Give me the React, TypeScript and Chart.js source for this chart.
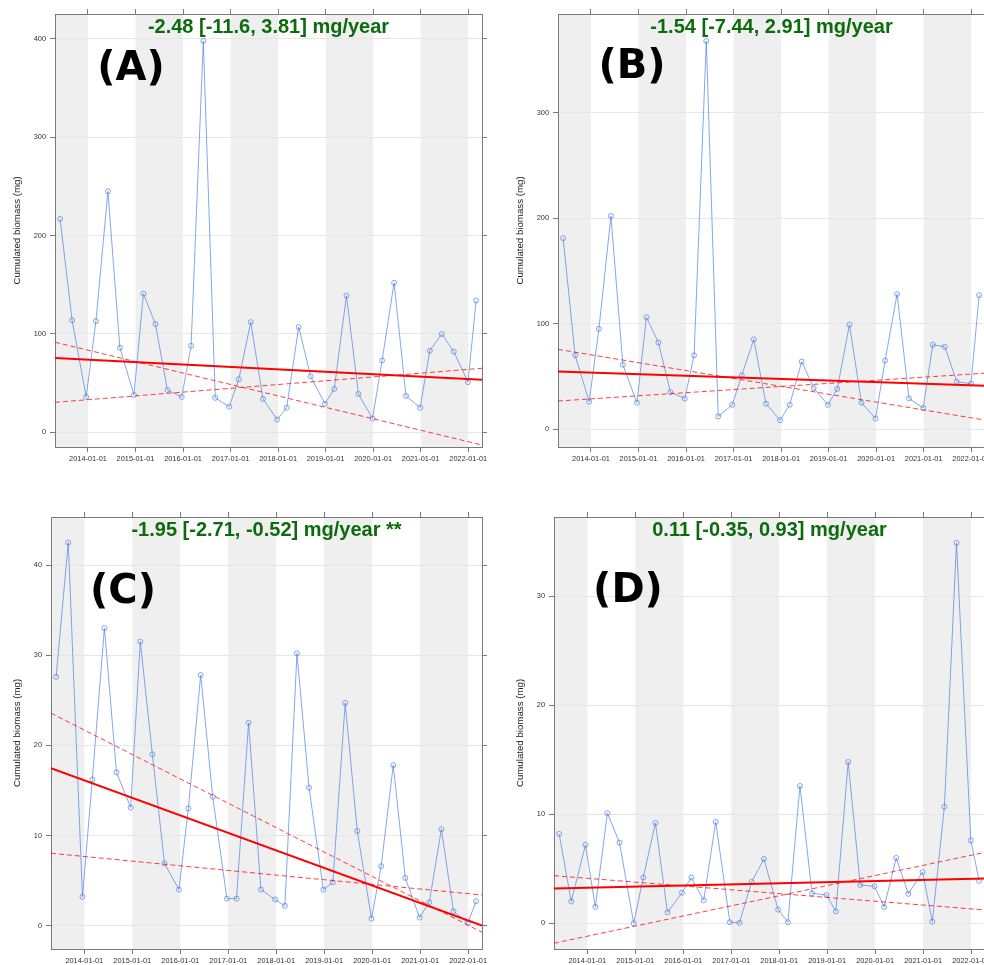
import React, { useEffect, useRef } from "react";
import { Chart, registerables } from "chart.js";

Chart.register(...registerables);

// ---------- DATA ----------
const sampleDates = [
  "2013-06-01", "2013-09-01", "2013-12-18",
  "2014-03-03", "2014-06-03", "2014-09-03", "2014-12-20",
  "2015-03-03", "2015-06-03", "2015-09-03", "2015-12-22",
  "2016-03-03", "2016-06-05", "2016-09-05", "2016-12-22",
  "2017-03-05", "2017-06-05", "2017-09-07", "2017-12-24",
  "2018-03-08", "2018-06-08", "2018-09-08", "2018-12-26",
  "2019-03-08", "2019-06-10", "2019-09-10", "2019-12-27",
  "2020-03-10", "2020-06-10", "2020-09-10", "2020-12-28",
  "2021-03-12", "2021-06-12", "2021-09-12", "2021-12-30",
  "2022-03-03",
];

const biomassA = [217, 114, 36, 113, 245, 86, 38, 141, 110, 43, 36, 88, 398, 35, 26, 54, 112, 34, 13, 25, 107, 57, 29, 44, 139, 39, 14, 73, 152, 37, 25, 83, 100, 82, 51, 134];
const biomassB = [181, 70, 26, 95, 202, 61, 25, 106, 82, 35, 29, 70, 368, 12, 23, 51, 85, 24, 8.5, 23, 64, 39, 23, 38, 99, 25, 10, 65, 128, 29, 20, 80, 78, 45, 43, 127];
const biomassC = [27.6, 42.5, 3.2, 16.2, 33, 17, 13.1, 31.5, 19, 6.9, 4.0, 13.0, 27.8, 14.3, 3.0, 3.0, 22.5, 4.0, 2.9, 2.2, 30.2, 15.3, 4.0, 4.8, 24.7, 10.5, 0.8, 6.6, 17.8, 5.3, 0.9, 2.6, 10.7, 1.6, 0.3, 2.7];
const biomassD = [8.2, 2.0, 7.2, 1.5, 10.1, 7.4, 0.0, 4.2, 9.2, 1.0, 2.8, 4.2, 2.1, 9.3, 0.1, 0.05, 3.8, 5.9, 1.25, 0.1, 12.6, 2.75, 2.6, 1.1, 14.8, 3.5, 3.4, 1.5, 6.0, 2.7, 4.7, 0.15, 10.7, 34.9, 7.6, 3.9];

// trend lines: [value at left edge, value at right edge]
const trendA = [75.5, 53.4];
const ciLowA = [91.6, -12.9];
const ciHighA = [30.5, 65.1];
const trendB = [54.7, 41.0];
const ciLowB = [75.6, 8.5];
const ciHighB = [26.6, 53.0];
const trendC = [17.47, 0.0];
const ciLowC = [23.57, -0.73];
const ciHighC = [8.03, 3.4];
const trendD = [3.18, 4.1];
const ciLowD = [4.37, 1.22];
const ciHighD = [-1.83, 6.51];

const titleA = "-2.48 [-11.6, 3.81] mg/year";
const titleB = "-1.54 [-7.44, 2.91] mg/year";
const titleC = "-1.95 [-2.71, -0.52] mg/year **";
const titleD = "0.11 [-0.35, 0.93] mg/year";

const yearTicks = [2014, 2015, 2016, 2017, 2018, 2019, 2020, 2021, 2022];
const shadedYears = [2013, 2015, 2017, 2019, 2021];
const yTicksA = [0, 100, 200, 300, 400];
const yTicksB = [0, 100, 200, 300];
const yTicksC = [0, 10, 20, 30, 40];
const yTicksD = [0, 10, 20, 30];

const yAxisTitle = "Cumulated biomass (mg)";

// ---------- STYLE ----------
const X_MIN = 2013.306;
const X_MAX = 2022.29;
const AXIS = "#7a7a7a";
const GRID = "#e6e6e6";
const BAND = "#efefef";
const TICK_FONT = { family: "'Liberation Sans', Arial, sans-serif", size: 7.4 };
const BLUE = "rgba(80,130,230,0.7)";

function toYear(d: string): number {
  const [y, m, day] = d.split("-").map(Number);
  const start = Date.UTC(y, 0, 1);
  const end = Date.UTC(y + 1, 0, 1);
  return y + (Date.UTC(y, m - 1, day) - start) / (end - start);
}

const decorPlugin = {
  id: "decor",
  beforeDraw(chart: any, _args: any, opts: any) {
    const { ctx, chartArea: a, scales } = chart;
    const x = scales.x;
    ctx.save();
    ctx.beginPath();
    ctx.rect(a.left, a.top, a.right - a.left, a.bottom - a.top);
    ctx.clip();
    ctx.fillStyle = BAND;
    for (const y0 of shadedYears) {
      const x0 = x.getPixelForValue(y0);
      const x1 = x.getPixelForValue(y0 + 1);
      ctx.fillRect(x0, a.top, x1 - x0, a.bottom - a.top);
    }
    ctx.restore();
  },
  afterDraw(chart: any, _args: any, opts: any) {
    const { ctx, chartArea: a } = chart;
    ctx.save();
    ctx.fillStyle = "#0c6b0c";
    ctx.font = "bold 20px 'Liberation Sans', Arial, sans-serif";
    ctx.textAlign = "center";
    ctx.textBaseline = "middle";
    ctx.fillText(opts.title, (a.left + a.right) / 2 + (opts.titleDx || 0), a.top + 13);
    ctx.fillStyle = "#000";
    ctx.font = "bold 40px 'DejaVu Sans', sans-serif";
    ctx.textBaseline = "alphabetic";
    ctx.fillText(opts.letter, a.left + opts.letterDx, a.top + opts.letterDy);
    ctx.restore();
  },
};

type Panel = {
  key: string;
  left: number;
  top: number;
  width: number;
  height: number;
  yW: number;
  yRW: number;
  xTopH: number;
  xH: number;
  values: number[];
  trend: number[];
  ciLow: number[];
  ciHigh: number[];
  yMin: number;
  yMax: number;
  yTicks: number[];
  title: string;
  letter: string;
  letterDx: number;
  letterDy: number;
};

const panels: Panel[] = [
  { key: "A", left: 0, top: 0, width: 492, height: 480, yW: 55, yRW: 10, xTopH: 14, xH: 33,
    values: biomassA, trend: trendA, ciLow: ciLowA, ciHigh: ciHighA, yMin: -14.95, yMax: 425.4, yTicks: yTicksA,
    title: titleA, letter: "(A)", letterDx: 76, letterDy: 66 },
  { key: "B", left: 503, top: 0, width: 492, height: 480, yW: 55, yRW: 10, xTopH: 14, xH: 33,
    values: biomassB, trend: trendB, ciLow: ciLowB, ciHigh: ciHighB, yMin: -17, yMax: 393.6, yTicks: yTicksB,
    title: titleB, letter: "(B)", letterDx: 74, letterDy: 64 },
  { key: "C", left: 0, top: 480, width: 492, height: 485, yW: 51, yRW: 10, xTopH: 37, xH: 16,
    values: biomassC, trend: trendC, ciLow: ciLowC, ciHigh: ciHighC, yMin: -2.59, yMax: 45.33, yTicks: yTicksC,
    title: titleC, letter: "(C)", letterDx: 72, letterDy: 86 },
  { key: "D", left: 503, top: 480, width: 492, height: 485, yW: 51, yRW: 10, xTopH: 37, xH: 16,
    values: biomassD, trend: trendD, ciLow: ciLowD, ciHigh: ciHighD, yMin: -2.36, yMax: 37.28, yTicks: yTicksD,
    title: titleD, letter: "(D)", letterDx: 74, letterDy: 85 },
];

function makeConfig(p: Panel): any {
  const fixW = (w: number) => (s: any) => { s.width = w; };
  const fixH = (h: number) => (s: any) => { s.height = h; };
  const setYearTicks = (s: any) => { s.ticks = yearTicks.map((v) => ({ value: v })); };
  const setYTicks = (s: any) => { s.ticks = p.yTicks.map((v) => ({ value: v })); };
  const border = { display: true, color: AXIS, width: 1 };
  const edgeGrid = { drawOnChartArea: false, drawTicks: true, tickLength: 5, color: AXIS, tickColor: AXIS };
  const lineDs = (vals: number[], dashed: boolean, order: number) => ({
    data: [{ x: X_MIN, y: vals[0] }, { x: X_MAX, y: vals[1] }],
    borderColor: dashed ? "rgba(255,0,0,0.75)" : "#ff0000",
    borderWidth: dashed ? 1 : 2,
    borderDash: dashed ? [5, 3] : [],
    pointRadius: 0,
    xAxisID: "x",
    yAxisID: "y",
    order,
  });
  return {
    type: "line",
    data: {
      datasets: [
        lineDs(p.trend, false, 0),
        lineDs(p.ciLow, true, 1),
        lineDs(p.ciHigh, true, 2),
        {
          data: sampleDates.map((d, i) => ({ x: toYear(d), y: p.values[i] })),
          borderColor: BLUE,
          borderWidth: 1,
          pointRadius: 2.5,
          pointBorderWidth: 1,
          pointBorderColor: BLUE,
          pointBackgroundColor: "rgba(0,0,0,0)",
          tension: 0,
          xAxisID: "x",
          yAxisID: "y",
          order: 3,
        },
      ],
    },
    options: {
      animation: false,
      responsive: false,
      maintainAspectRatio: false,
      layout: { padding: 0 },
      plugins: {
        legend: { display: false },
        tooltip: { enabled: false },
        decor: { title: p.title, letter: p.letter, letterDx: p.letterDx, letterDy: p.letterDy },
      },
      scales: {
        x: {
          type: "linear",
          position: "bottom",
          min: X_MIN,
          max: X_MAX,
          afterBuildTicks: setYearTicks,
          afterFit: fixH(p.xH),
          ticks: {
            callback: (v: number) => `${v}-01-01`,
            font: TICK_FONT,
            color: "#333",
            padding: 3,
            maxRotation: 0,
            autoSkip: false,
          },
          grid: edgeGrid,
          border,
        },
        xTop: {
          type: "linear",
          position: "top",
          min: X_MIN,
          max: X_MAX,
          afterBuildTicks: setYearTicks,
          afterFit: fixH(p.xTopH),
          ticks: { display: false },
          grid: edgeGrid,
          border,
        },
        y: {
          type: "linear",
          position: "left",
          min: p.yMin,
          max: p.yMax,
          afterBuildTicks: setYTicks,
          afterFit: fixW(p.yW),
          ticks: { font: TICK_FONT, color: "#333", padding: 4 },
          grid: { drawOnChartArea: true, color: GRID, tickColor: AXIS, tickLength: 5 },
          border,
          title: {
            display: true,
            text: yAxisTitle,
            color: "#222",
            font: { family: "'Liberation Sans', Arial, sans-serif", size: 9.7 },
            padding: { top: 11.7, bottom: 0 },
          },
        },
        yRight: {
          type: "linear",
          position: "right",
          min: p.yMin,
          max: p.yMax,
          afterBuildTicks: setYTicks,
          afterFit: fixW(p.yRW),
          ticks: { display: false },
          grid: edgeGrid,
          border,
        },
      },
    },
    plugins: [decorPlugin],
  };
}

function PanelChart({ p }: { p: Panel }) {
  const ref = useRef<HTMLCanvasElement | null>(null);
  useEffect(() => {
    if (!ref.current) return;
    const chart = new Chart(ref.current, makeConfig(p));
    return () => chart.destroy();
  }, [p]);
  return (
    <canvas
      ref={ref}
      width={p.width}
      height={p.height}
      style={{ position: "absolute", left: p.left, top: p.top, width: p.width, height: p.height }}
    />
  );
}

export default function App() {
  return (
    <div
      style={{
        position: "fixed",
        left: 0,
        top: 0,
        width: 984,
        height: 965,
        overflow: "hidden",
        background: "#ffffff",
      }}
    >
      {panels.map((p) => (
        <PanelChart key={p.key} p={p} />
      ))}
    </div>
  );
}
